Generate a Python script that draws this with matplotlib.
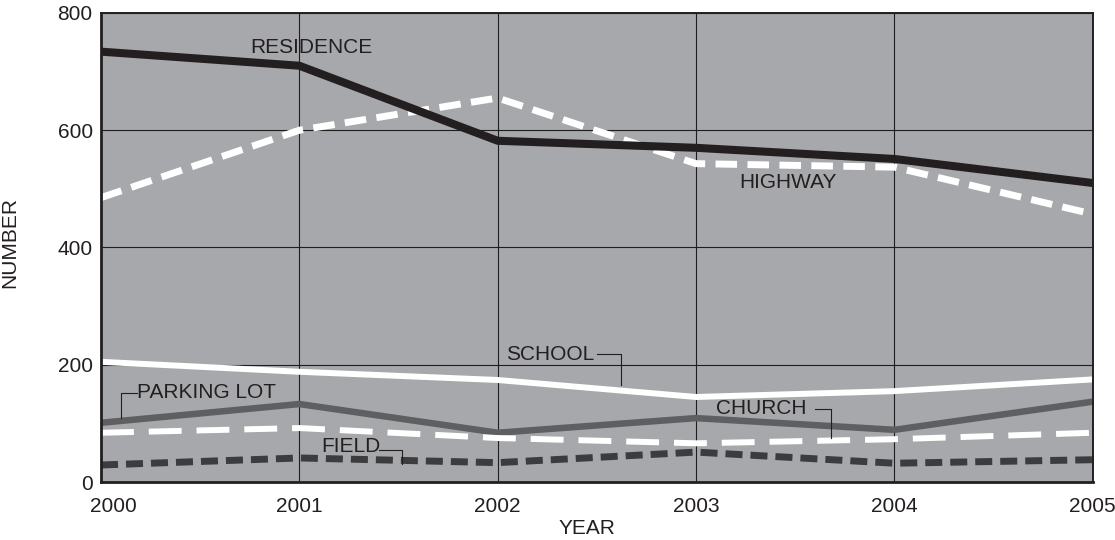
import numpy as np
import matplotlib.pyplot as plt
import matplotlib.transforms as mtransforms

plt.rcParams['font.family'] = ['Liberation Sans', 'DejaVu Sans']

years = [2000, 2001, 2002, 2003, 2004, 2005]
residence = [734, 710, 582, 570, 551, 510]
highway = [485, 600, 655, 543, 537, 457]
school = [205, 188, 174, 145, 155, 175]
parking_lot = [101, 133, 84, 109, 89, 137]
church = [84, 92, 75, 66, 73, 84]
field = [29, 41, 33, 51, 32, 38]

txt = '#231f20'
bg = '#a7a8ab'

fig = plt.figure(figsize=(11.15, 5.4), dpi=100)
ax = fig.add_axes([0.0906, 0.1074, 0.8894, 0.8686])
ax.set_facecolor(bg)

# series, back to front
ax.plot(years, parking_lot, color='#5f5f61', lw=4.7, solid_joinstyle='miter')
ax.plot(years, church, color='white', lw=4.3, linestyle=(0, (5.5, 2.5)))
ax.plot(years, field, color='#3c3c3e', lw=5, linestyle=(0, (2.45, 1.15)))
ax.plot(years, school, color='white', lw=4.3)
ax.plot(years, highway, color='white', lw=5, linestyle=(0, (3.1, 1.5)))
ax.plot(years, residence, color=txt, lw=5.8)

ax.set_xlim(2000, 2005)
ax.set_ylim(0, 800)
ax.set_xticks(years)
ax.set_yticks([0, 200, 400, 600, 800])
ax.grid(True, color='#1e1e1e', lw=0.8)
ax.set_axisbelow(True)
ax.tick_params(length=0, labelsize=15, colors=txt, pad=6)
ax.tick_params(axis='x', pad=11)

for s in ['top', 'right']:
    ax.spines[s].set_linewidth(1.4)
for s in ['left', 'bottom']:
    ax.spines[s].set_linewidth(2)
for s in ax.spines.values():
    s.set_color(txt)

# nudge first x label inside the figure
lab0 = ax.get_xticklabels()[0]
lab0.set_transform(lab0.get_transform() + mtransforms.ScaledTranslation(0.12, 0, fig.dpi_scale_trans))

ax.set_xlabel('YEAR', fontsize=15, color=txt)
ax.xaxis.set_label_coords(0.49, -0.078)
ax.set_ylabel('NUMBER', fontsize=15, color=txt)
ax.yaxis.set_label_coords(-0.082, 0.51)

fs = 15
ax.text(2000.75, 741, 'RESIDENCE', fontsize=fs, color=txt, va='center')
ax.text(2003.22, 510, 'HIGHWAY', fontsize=fs, color=txt, va='center')
ax.text(2002.04, 218, 'SCHOOL', fontsize=fs, color=txt, va='center')
ax.text(2003.10, 125, 'CHURCH', fontsize=fs, color=txt, va='center')
ax.text(2000.18, 152, 'PARKING LOT', fontsize=fs, color=txt, va='center')
ax.text(2001.11, 60, 'FIELD', fontsize=fs, color=txt, va='center')

# leader lines
ax.plot([2002.50, 2002.62, 2002.62], [218, 218, 165], color=txt, lw=0.8)
ax.plot([2003.60, 2003.68, 2003.68], [125, 125, 75], color=txt, lw=0.8)
ax.plot([2000.18, 2000.10, 2000.10], [152, 152, 109], color=txt, lw=0.8)
ax.plot([2001.40, 2001.52, 2001.52], [55, 55, 31], color=txt, lw=0.8)

fig.savefig('out.png', dpi=100)
